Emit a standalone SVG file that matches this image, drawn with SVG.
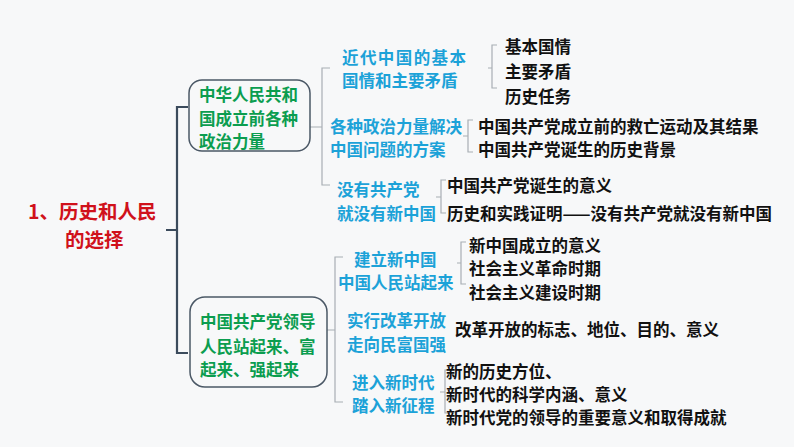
<svg xmlns="http://www.w3.org/2000/svg" width="794" height="447" viewBox="0 0 794 447">
<style>
text{font-family:"Noto Sans CJK SC","Noto Sans",sans-serif;font-weight:bold;font-size:16.5px}
.t{fill:#d0111b;font-size:19.5px}
.g{fill:#0b9d4f}
.b{fill:#1ca2d8}
.k{fill:#111}
.box{fill:#f7f8f9;stroke:#4b5866;stroke-width:1.5}
.main{fill:none;stroke:#3b4b5c;stroke-width:2.2}
.br{fill:none;stroke:#a8aeb4;stroke-width:1.2}
</style>
<rect width="794" height="447" fill="#f7f8f9"/>
<g id="connectors">
<path class="main" d="M166,230 H177 M188,107 H177 V353 H188"/>
<path class="br" d="M310,127 H322 M330,68 H322 V185 H330"/>
<path class="br" d="M327,330 H335 M343,257 H335 V402 H343"/>
<path class="br" d="M488,68 H492 M497,45 H492 V88 H497"/>
<path class="br" d="M463,136 H468 M473,120 H468 V152 H473"/>
<path class="br" d="M436,197 H441 M446,180 H441 V213 H446"/>
<path class="br" d="M457,263 H461 M466,242 H461 V284 H466"/>
<path class="br" d="M440,392 H445 M449,370 H445 V413 H449"/>
</g>
<g id="root">
<text class="t" x="28" y="219">1、历史和人民</text>
<text class="t" x="65" y="247">的选择</text>
</g>
<g id="box1">
<rect class="box" x="189" y="80" width="121" height="71" rx="13"/>
<text class="g" x="199" y="101">中华人民共和</text>
<text class="g" x="199" y="125">国成立前各种</text>
<text class="g" x="199" y="148">政治力量</text>
</g>
<g id="box2">
<rect class="box" x="190" y="297" width="137" height="90" rx="15"/>
<text class="g" x="200" y="328">中国共产党领导</text>
<text class="g" x="200" y="353">人民站起来、富</text>
<text class="g" x="200" y="376">起来、强起来</text>
</g>
<g id="n1">
<text class="b" x="342" y="64" textLength="124" lengthAdjust="spacing">近代中国的基本</text>
<text class="b" x="342" y="87">国情和主要矛盾</text>
</g>
<g id="n2">
<text class="b" x="330" y="133">各种政治力量解决</text>
<text class="b" x="330" y="156">中国问题的方案</text>
</g>
<g id="n3">
<text class="b" x="337" y="196">没有共产党</text>
<text class="b" x="337" y="220">就没有新中国</text>
</g>
<g id="n4">
<text class="b" x="354" y="266">建立新中国</text>
<text class="b" x="338" y="289">中国人民站起来</text>
</g>
<g id="n5">
<text class="b" x="347" y="327">实行改革开放</text>
<text class="b" x="347" y="351">走向民富国强</text>
</g>
<g id="n6">
<text class="b" x="352" y="389">进入新时代</text>
<text class="b" x="352" y="412">踏入新征程</text>
</g>
<g id="l1">
<text class="k" x="505" y="53">基本国情</text>
<text class="k" x="505" y="78">主要矛盾</text>
<text class="k" x="505" y="103">历史任务</text>
</g>
<g id="l2">
<text class="k" x="478" y="133">中国共产党成立前的救亡运动及其结果</text>
<text class="k" x="478" y="156">中国共产党诞生的历史背景</text>
</g>
<g id="l3">
<text class="k" x="447" y="192">中国共产党诞生的意义</text>
<text class="k" x="447" y="220">历史和实践证明——没有共产党就没有新中国</text>
</g>
<g id="l4">
<text class="k" x="469" y="252">新中国成立的意义</text>
<text class="k" x="469" y="275">社会主义革命时期</text>
<text class="k" x="469" y="299">社会主义建设时期</text>
</g>
<g id="l5">
<text class="k" x="455" y="336">改革开放的标志、地位、目的、意义</text>
</g>
<g id="l6">
<text class="k" x="446" y="378">新的历史方位、</text>
<text class="k" x="446" y="401">新时代的科学内涵、意义</text>
<text class="k" x="446" y="424">新时代党的领导的重要意义和取得成就</text>
</g>
</svg>
